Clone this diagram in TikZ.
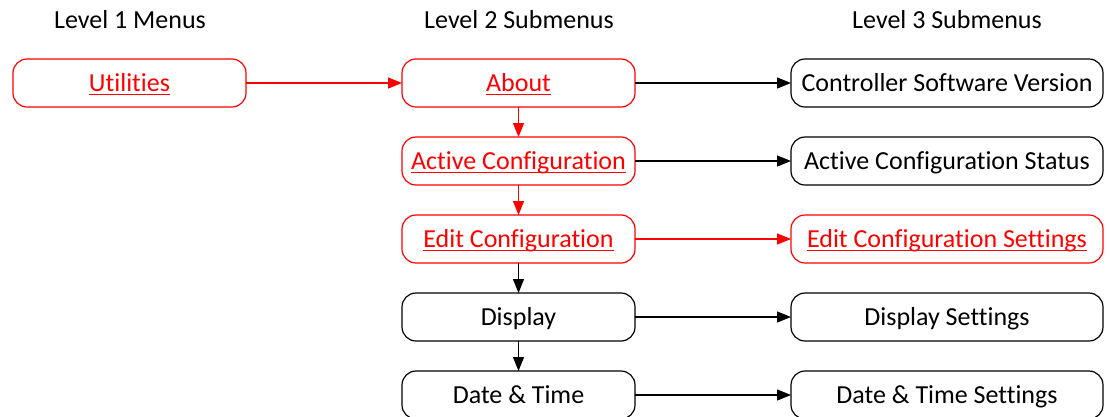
\documentclass[tikz,border=0pt]{standalone}
\usepackage{amsmath}
\usepackage{fontspec}
\setmainfont{Carlito}[Ligatures={NoCommon},Contextuals={NoAlternate},RawFeature={-clig;-ccmp}]
\usetikzlibrary{arrows.meta,positioning}
\newcommand{\menuline}[1]{\underline{\smash[b]{#1}}}

\begin{document}
\begin{tikzpicture}[x=1pt,y=-1pt,
    menu/.style={draw,rounded corners=14pt,minimum width=233pt,minimum height=48pt,
      inner sep=0pt,outer sep=0pt,text height=20pt,text depth=4pt,
      line width=1.2pt,font=\fontsize{26}{30}\selectfont},
    wide/.style={menu,minimum width=312pt},
    sel/.style={draw=red,text=red},
    head/.style={font=\fontsize{26}{30}\selectfont},
    link/.style={-{Triangle[length=14pt,width=11pt]},line width=1.2pt}]
  \useasboundingbox (0,0) rectangle (1110,416);
  % column headings
  \node[head] (h1) at (130,20) {Level 1 Menus};
  \node[head] (h2) at (519,20) {Level 2 Submenus};
  \node[head] (h3) at (947,20) {Level 3 Submenus};
  % level 1
  \node[menu,sel] (util) at (129.5,83) {\menuline{Utilities}};
  % level 2
  \node[menu,sel] (about) at (518.5,83) {\menuline{About}};
  \node[menu,sel,below=30pt of about] (active) {\menuline{Active Configuration}};
  \node[menu,sel,below=30pt of active] (edit) {\menuline{Edit Configuration}};
  \node[menu,below=30pt of edit] (disp) {Display};
  \node[menu,below=30pt of disp] (date) {Date \& Time};
  % level 3
  \node[wide,right=156pt of about] (version) {Controller Software Version};
  \node[wide,right=156pt of active] (status) {Active Configuration Status};
  \node[wide,sel,right=156pt of edit] (editset) {\menuline{Edit Configuration Settings}};
  \node[wide,right=156pt of disp] (dispset) {Display Settings};
  \node[wide,right=156pt of date] (dateset) {Date \& Time Settings};
  % connectors
  \draw[link,red] (util) -- (about);
  \draw[link,red] (about) -- (active);
  \draw[link,red] (active) -- (edit);
  \draw[link] (edit) -- (disp);
  \draw[link] (disp) -- (date);
  \draw[link] (about) -- (version);
  \draw[link] (active) -- (status);
  \draw[link,red] (edit) -- (editset);
  \draw[link] (disp) -- (dispset);
  \draw[link] (date) -- (dateset);
\end{tikzpicture}
\end{document}
